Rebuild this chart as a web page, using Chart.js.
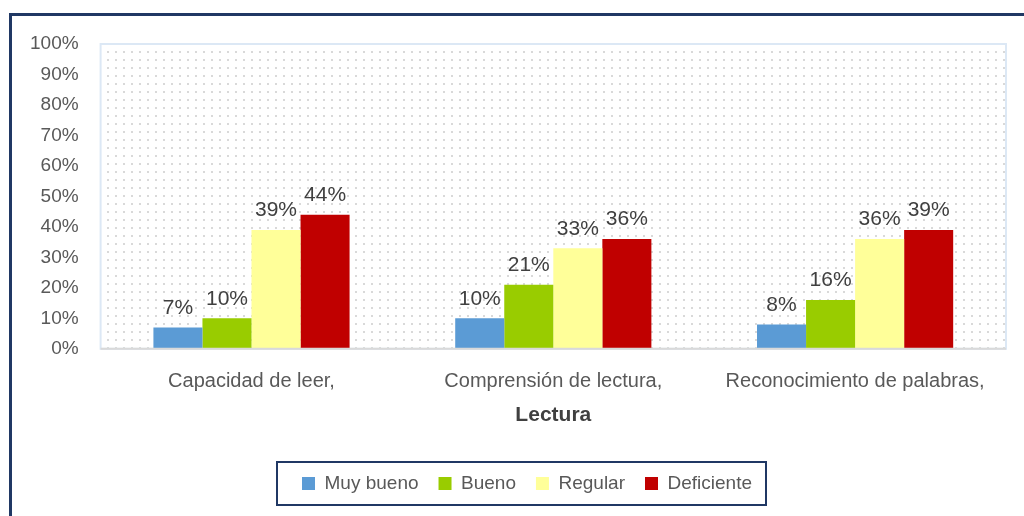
<!DOCTYPE html>
<html>
<head>
<meta charset="utf-8">
<script src="https://cdn.jsdelivr.net/npm/chart.js@4.4.1/dist/chart.umd.min.js"></script>
<style>
  html, body { margin: 0; padding: 0; background: #fff; }
  #wrap { position: relative; width: 1024px; height: 516px; overflow: hidden; }
  #frame { position: absolute; left: 9px; top: 13px; width: 1100px; height: 600px;
           border-top: 3px solid #203864; border-left: 3px solid #203864; }
  canvas { position: absolute; left: 0; top: 0; }
</style>
</head>
<body>
<div id="wrap">
  <div id="frame"></div>
  <canvas id="chart" width="1024" height="516"></canvas>
</div>
<script>
const categories = ['Capacidad de leer,', 'Comprensión de lectura,', 'Reconocimiento de palabras,'];
const muyBueno = [7, 10, 8];
const bueno = [10, 21, 16];
const regular = [39, 33, 36];
const deficiente = [44, 36, 39];
const seriesNames = ['Muy bueno', 'Bueno', 'Regular', 'Deficiente'];
const seriesColors = ['#5b9bd5', '#99cc00', '#ffff99', '#c00000'];
const axisTitle = 'Lectura';

const FONT = "'Liberation Sans', Arial, sans-serif";
const LEGEND_SHIFT = 16;

// dotted background inside plot area
function dotPattern(ctx) {
  const c = document.createElement('canvas');
  c.width = 8; c.height = 8;
  const p = c.getContext('2d');
  p.fillStyle = '#d9d9d9';
  p.fillRect(3, 3, 2, 2);
  return ctx.createPattern(c, 'repeat');
}

const plotDecor = {
  id: 'plotDecor',
  beforeDraw(chart) {
    // nudge legend to the right, like the original
    const lg = chart.legend;
    if (lg && !lg._shifted) {
      lg.left += LEGEND_SHIFT;
      lg.right += LEGEND_SHIFT;
      lg._shifted = true;
    }
  },
  beforeDatasetsDraw(chart) {
    const { ctx, chartArea: a } = chart;
    ctx.save();
    ctx.fillStyle = dotPattern(ctx);
    ctx.fillRect(a.left, a.top, a.right - a.left, a.bottom - a.top);
    ctx.strokeStyle = '#dce8f5';
    ctx.lineWidth = 2;
    ctx.strokeRect(a.left, a.top, a.right - a.left, a.bottom - a.top);
    ctx.restore();
  },
  afterDatasetsDraw(chart) {
    const { ctx, chartArea: a } = chart;
    ctx.save();
    ctx.strokeStyle = '#d9d9d9';
    ctx.lineWidth = 2;
    ctx.beginPath();
    ctx.moveTo(a.left, a.bottom);
    ctx.lineTo(a.right, a.bottom);
    ctx.stroke();
    // value labels
    ctx.fillStyle = '#404040';
    ctx.font = '21px ' + FONT;
    ctx.textAlign = 'center';
    ctx.textBaseline = 'bottom';
    chart.data.datasets.forEach((ds, i) => {
      chart.getDatasetMeta(i).data.forEach((bar, j) => {
        ctx.fillText(ds.data[j] + '%', bar.x, bar.y - 9);
      });
    });
    ctx.restore();
  },
  afterDraw(chart) {
    const lg = chart.legend;
    if (!lg || !lg.legendHitBoxes.length) return;
    const hb = lg.legendHitBoxes;
    const span = hb[hb.length - 1].left + hb[hb.length - 1].width - hb[0].left + 39;
    const cx = (lg.left + lg.right) / 2 - 6;
    const ctx = chart.ctx;
    ctx.save();
    ctx.strokeStyle = '#203864';
    ctx.lineWidth = 2;
    ctx.strokeRect(Math.round(cx - span / 2), lg.top + 8, Math.round(span), 43);
    ctx.restore();
  }
};

const sets = [muyBueno, bueno, regular, deficiente];

new Chart(document.getElementById('chart'), {
  type: 'bar',
  data: {
    labels: categories,
    datasets: sets.map((d, i) => ({
      label: seriesNames[i],
      data: d,
      backgroundColor: seriesColors[i],
      categoryPercentage: 0.65,
      barPercentage: 1.0
    }))
  },
  options: {
    responsive: false,
    animation: false,
    layout: { padding: { left: 16, right: 18, top: 44, bottom: 13 } },
    plugins: {
      tooltip: { enabled: false },
      legend: {
        position: 'bottom',
        labels: {
          color: '#595959',
          font: { family: FONT, size: 19 },
          boxWidth: 13, boxHeight: 13,
          padding: 20
        }
      }
    },
    scales: {
      x: {
        grid: { display: false },
        border: { display: false },
        ticks: { color: '#595959', font: { family: FONT, size: 20 }, padding: 13 },
        title: { display: true, text: axisTitle, color: '#404040',
                 font: { family: FONT, size: 21, weight: 'bold' }, padding: { top: -4, bottom: 26 } }
      },
      y: {
        min: 0, max: 100,
        grid: { display: false },
        border: { display: false },
        ticks: { stepSize: 10, color: '#595959', font: { family: FONT, size: 19 }, padding: 14,
                 callback: v => v + '%' }
      }
    }
  },
  plugins: [plotDecor]
});
</script>
</body>
</html>
